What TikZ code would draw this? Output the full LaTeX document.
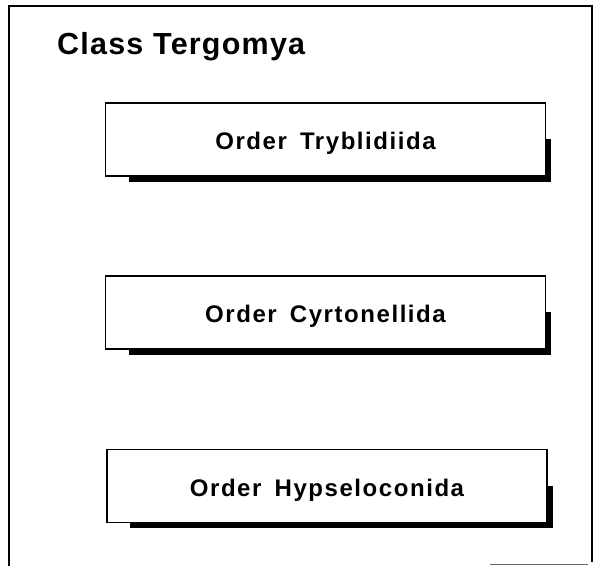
\documentclass[tikz,border=0pt]{standalone}
\usepackage{fontspec}
\setmainfont{Liberation Sans}
\usetikzlibrary{backgrounds}
\newfontfamily\titlefont[LetterSpace=4]{Liberation Sans Bold}
\newfontfamily\orderfont[LetterSpace=6.5,WordSpace=1.6]{Liberation Sans Bold}
\tikzset{
  orderbox/.style={draw=black, line width=1.8pt, fill=white,
    minimum width=440pt, minimum height=73pt, inner sep=0pt,
    text height=22pt, text depth=2pt,
    font=\orderfont\fontsize{24}{28}\selectfont},
  boxshadow/.style={fill=black},
  frameline/.style={line width=1.8pt, line cap=butt}
}
\begin{document}
\begin{tikzpicture}[x=1pt,y=-1pt]
  \useasboundingbox (0,0) rectangle (600,566);
  % open frame of the class
  \coordinate (fbl) at (9,566);
  \coordinate (ftl) at (9,6);
  \coordinate (ftr) at (592,6);
  \coordinate (fbr) at (592,562);
  \draw[frameline] (fbl) -- (ftl) -- (ftr) -- (fbr);
  \coordinate (sl) at (490,564.5);
  \coordinate (sr) at (588,564.5);
  \draw[line width=0.6pt, black!60] (sl) -- (sr);
  % title
  \node[anchor=base west, inner sep=0pt, font=\titlefont\fontsize{30.5}{36}\selectfont]
    (title) at (57,54.5) {Class Tergomya};
  % orders
  \node[orderbox] (o1) at (325.5,139.5) {Order Tryblidiida};
  \node[orderbox] (o2) at (325.5,312.5) {Order Cyrtonellida};
  \node[orderbox] (o3) at (327,486) {Order Hypseloconida};
  \begin{scope}[on background layer]
    \foreach \b in {o1,o2,o3}{
      \fill[boxshadow] ([xshift=24pt,yshift=-37pt]\b.north west)
        rectangle ([xshift=5pt,yshift=-5pt]\b.south east);
    }
  \end{scope}
\end{tikzpicture}
\end{document}
